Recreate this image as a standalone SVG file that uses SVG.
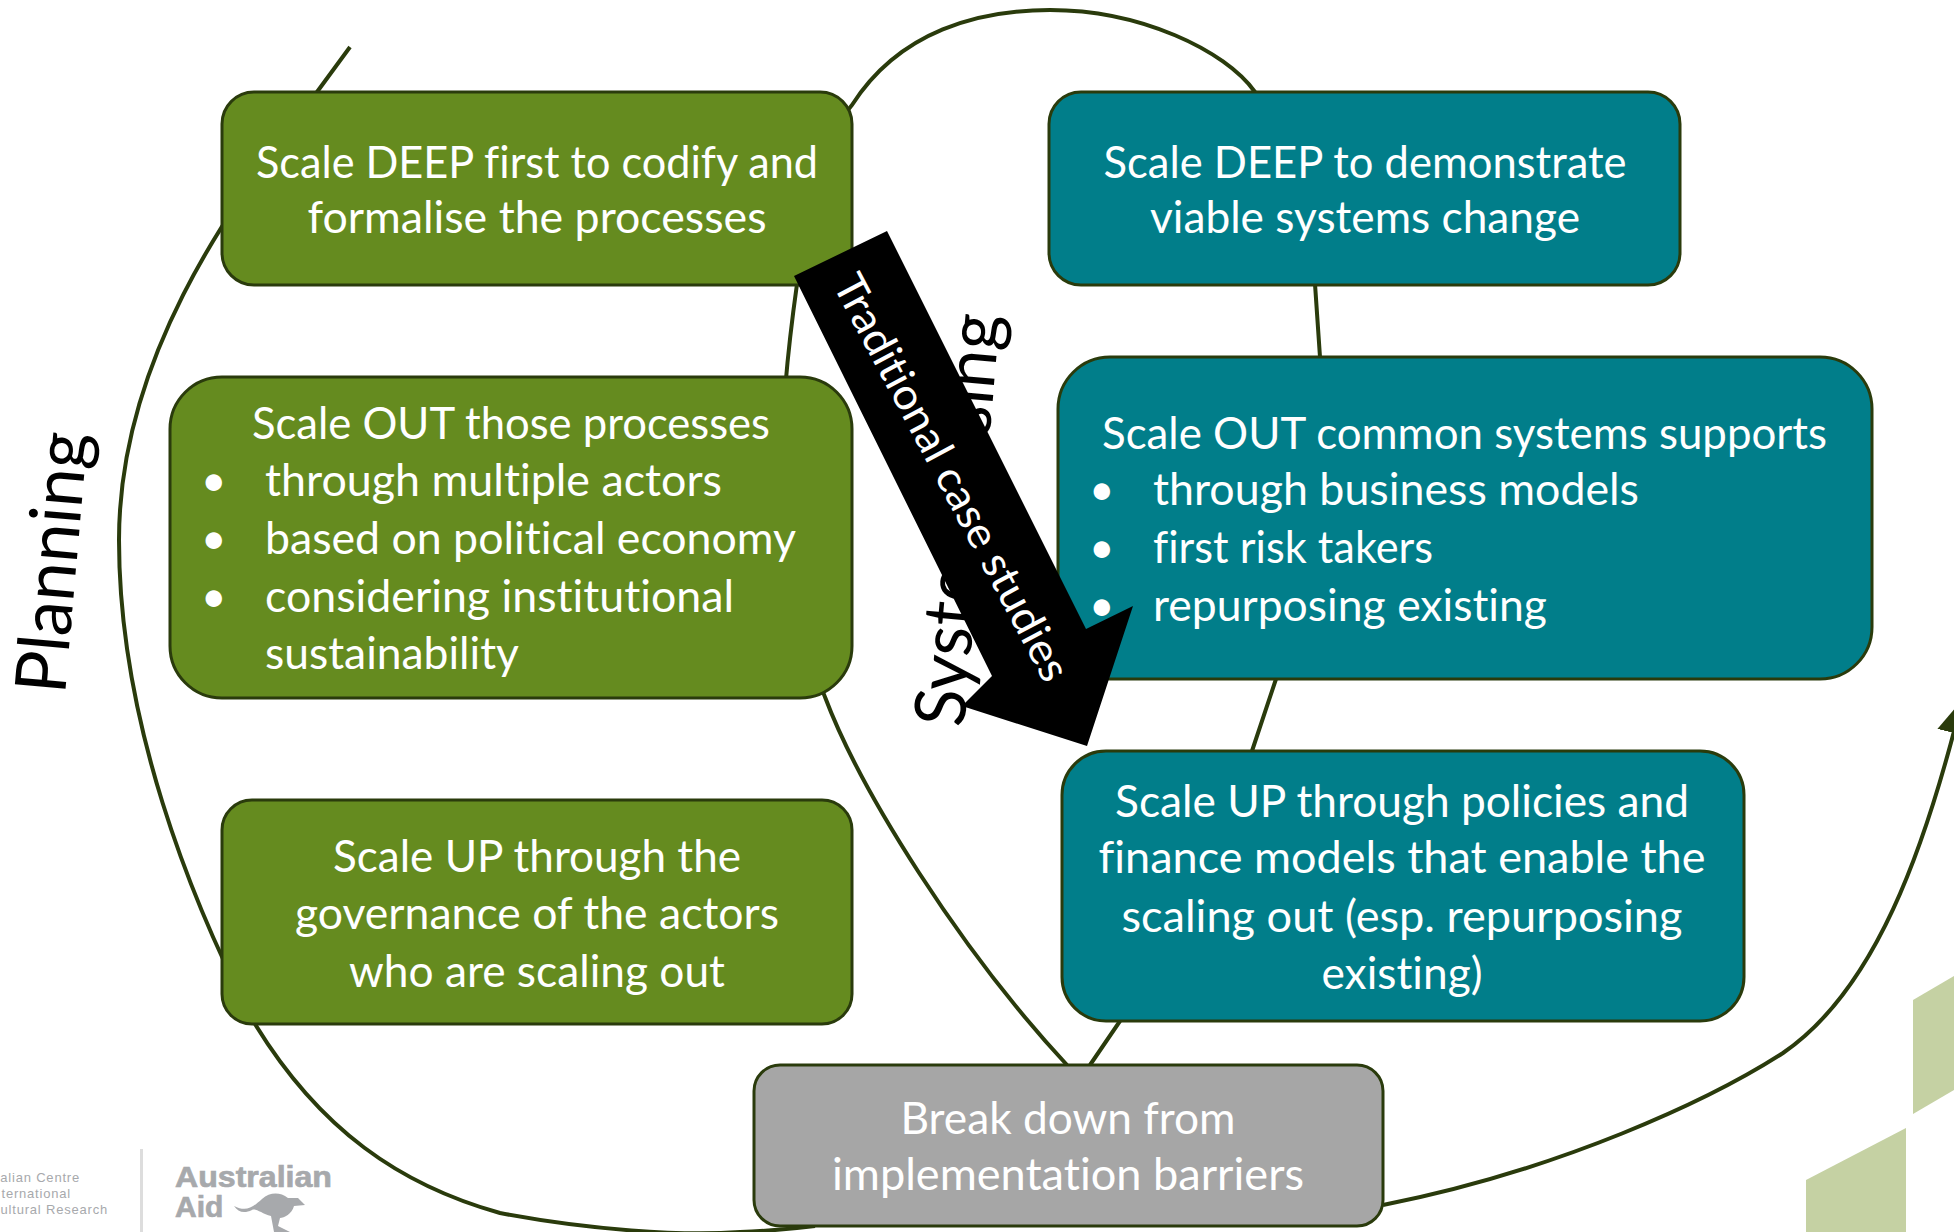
<svg xmlns="http://www.w3.org/2000/svg" width="1954" height="1232" viewBox="0 0 1954 1232">
<style>
.n{stroke:#2a3b0c;stroke-width:3}
.g{fill:#658b1f}.t{fill:#017e8a}.y{fill:#a6a6a6}
text{font-family:Lato,"Open Sans",sans-serif;font-variant-ligatures:none}
.w{fill:#fff;font-size:44px}
.m{text-anchor:middle}
.c{fill:none;stroke:#2a3b0c;stroke-width:4}
.k{fill:#000;font-size:71px}
.l{fill:#a7a9ac;font-family:"Liberation Sans",sans-serif}
.b{stroke:#a7a9ac;stroke-width:.7}
</style>
<defs><marker id="ah" markerUnits="userSpaceOnUse" markerWidth="40" markerHeight="40" refX="34" refY="17" orient="auto"><path d="M0,0L34,17L0,34Z" fill="#2a3b0c"/></marker></defs>
<rect width="1954" height="1232" fill="#fff"/>
<g id="decor">
<path d="M1913,1000L1954,976V1090L1913,1114Z" fill="#c5d1a3"/>
<path d="M1806,1180L1906,1128V1232H1806Z" fill="#c5d1a3"/>
<rect x="140" y="1149" width="3" height="83" fill="#ddd"/>
<text class="l" x="80" y="1182" font-size="13" text-anchor="end" letter-spacing=".8">alian Centre</text>
<text class="l" x="71" y="1198" font-size="13" text-anchor="end" letter-spacing=".8">ternational</text>
<text class="l" x="108" y="1214" font-size="13" text-anchor="end" letter-spacing=".8">ultural Research</text>
<text class="l b" x="175" y="1187" font-size="30" font-weight="700" textLength="157" lengthAdjust="spacingAndGlyphs">Australian</text>
<text class="l b" x="175" y="1217" font-size="30" font-weight="700">Aid</text>
<path class="l" d="M234,1206C246,1212 252,1208 262,1199C270,1192 280,1192 288,1198L298,1198L305,1205L294,1206C292,1214 284,1218 280,1218L278,1226L290,1232H274L271,1216C262,1214 256,1208 252,1210C244,1214 238,1212 234,1206Z"/>
</g>
<g id="connectors">
<path class="c" d="M350,47L317,92C270,160 119,330 119,540C119,720 190,900 255,1024C320,1130 400,1185 500,1213C590,1230 680,1236 740,1232C770,1231 790,1229 815,1226"/>
<path class="c" d="M1067,1065C960,950 860,790 825,697C770,570 775,440 797,284C805,200 830,130 852,105C900,30 980,10 1050,10C1140,10 1225,50 1255,92C1285,140 1310,230 1315,284L1320,357C1320,500 1300,610 1276,679L1252,751C1220,850 1170,960 1120,1021L1090,1065"/>
<path class="c" marker-end="url(#ah)" d="M1383,1205C1560,1170 1710,1100 1783,1053C1875,990 1925,850 1962,700"/>
</g>
<text id="planning" class="k" transform="translate(65,695) rotate(-85)" textLength="262" lengthAdjust="spacingAndGlyphs">Planning</text>
<text id="systems" class="k" transform="translate(964,728) rotate(-85)" textLength="414" lengthAdjust="spacingAndGlyphs">Systematising</text>
<g id="deep-green"><rect class="n g" x="222" y="92" width="630" height="193" rx="32"/>
<text class="w m" x="537" y="178" textLength="562" lengthAdjust="spacingAndGlyphs">Scale DEEP first to codify and</text><text class="w m" x="537" y="233" textLength="459" lengthAdjust="spacingAndGlyphs">formalise the processes</text></g>
<g id="out-green"><rect class="n g" x="170" y="377" width="682" height="321" rx="52"/>
<text class="w m" x="511" y="439" textLength="518" lengthAdjust="spacingAndGlyphs">Scale OUT those processes</text>
<text class="w" x="201" y="496">•</text><text class="w" x="265" y="496" textLength="457" lengthAdjust="spacingAndGlyphs">through multiple actors</text>
<text class="w" x="201" y="554">•</text><text class="w" x="265" y="554" textLength="531" lengthAdjust="spacingAndGlyphs">based on political economy</text>
<text class="w" x="201" y="612">•</text><text class="w" x="265" y="612" textLength="469" lengthAdjust="spacingAndGlyphs">considering institutional</text>
<text class="w" x="265" y="669" textLength="254" lengthAdjust="spacingAndGlyphs">sustainability</text></g>
<g id="up-green"><rect class="n g" x="222" y="800" width="630" height="224" rx="30"/>
<text class="w m" x="537" y="872" textLength="408" lengthAdjust="spacingAndGlyphs">Scale UP through the</text><text class="w m" x="537" y="929" textLength="484" lengthAdjust="spacingAndGlyphs">governance of the actors</text><text class="w m" x="537" y="987" textLength="376" lengthAdjust="spacingAndGlyphs">who are scaling out</text></g>
<g id="deep-teal"><rect class="n t" x="1049" y="92" width="631" height="193" rx="32"/>
<text class="w m" x="1365" y="178" textLength="523" lengthAdjust="spacingAndGlyphs">Scale DEEP to demonstrate</text><text class="w m" x="1365" y="233" textLength="430" lengthAdjust="spacingAndGlyphs">viable systems change</text></g>
<g id="out-teal"><rect class="n t" x="1058" y="357" width="814" height="322" rx="52"/>
<text class="w" x="1102" y="449" textLength="725" lengthAdjust="spacingAndGlyphs">Scale OUT common systems supports</text>
<text class="w" x="1089" y="505">•</text><text class="w" x="1153" y="505" textLength="486" lengthAdjust="spacingAndGlyphs">through business models</text>
<text class="w" x="1089" y="563">•</text><text class="w" x="1153" y="563" textLength="280" lengthAdjust="spacingAndGlyphs">first risk takers</text>
<text class="w" x="1089" y="621">•</text><text class="w" x="1153" y="621" textLength="394" lengthAdjust="spacingAndGlyphs">repurposing existing</text></g>
<g id="up-teal"><rect class="n t" x="1062" y="751" width="682" height="270" rx="44"/>
<text class="w m" x="1402" y="817" textLength="574" lengthAdjust="spacingAndGlyphs">Scale UP through policies and</text><text class="w m" x="1402" y="873" textLength="607" lengthAdjust="spacingAndGlyphs">finance models that enable the</text><text class="w m" x="1402" y="932" textLength="561" lengthAdjust="spacingAndGlyphs">scaling out (esp. repurposing</text><text class="w m" x="1402" y="989" textLength="161" lengthAdjust="spacingAndGlyphs">existing)</text></g>
<g id="barriers"><rect class="n y" x="754" y="1065" width="629" height="161" rx="26"/>
<text class="w m" x="1068" y="1134" textLength="335" lengthAdjust="spacingAndGlyphs">Break down from</text><text class="w m" x="1068" y="1190" textLength="472" lengthAdjust="spacingAndGlyphs">implementation barriers</text></g>
<g id="case-arrow"><path d="M794,276L887,231L1086,629L1133,606L1087,746L962,706L992,676Z" fill="#000"/>
<text fill="#fff" font-size="43" transform="translate(832,284) rotate(62)" textLength="454" lengthAdjust="spacingAndGlyphs">Traditional case studies</text></g>
</svg>
